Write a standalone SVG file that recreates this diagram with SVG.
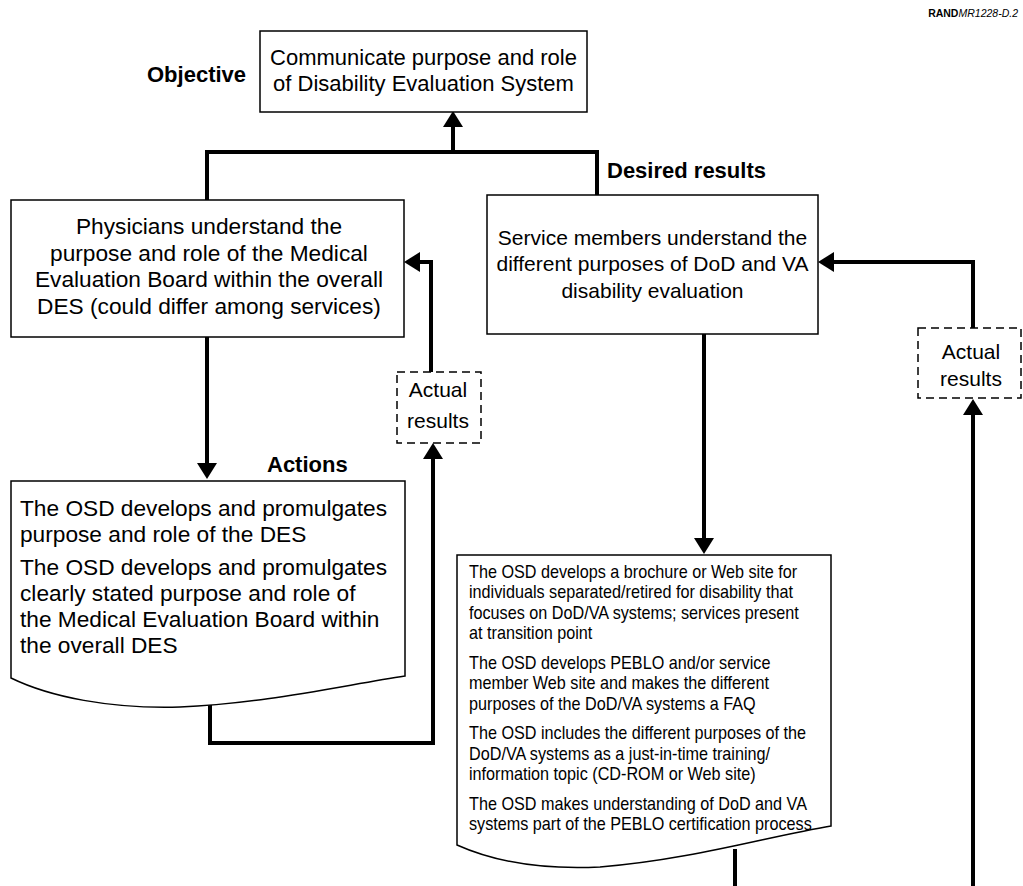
<svg xmlns="http://www.w3.org/2000/svg" width="1023" height="886" viewBox="0 0 1023 886">
  <defs>
    <marker id="ah" markerUnits="userSpaceOnUse" markerWidth="16" markerHeight="20" refX="0" refY="10" orient="auto" viewBox="0 0 16 20">
      <path d="M0,0 L16,10 L0,20 Z" fill="#000"/>
    </marker>
  </defs>
  <style>
    .box { fill: #fff; stroke: #000; stroke-width: 1.5; }
    .dash { fill: #fff; stroke: #000; stroke-width: 1.5; stroke-dasharray: 8 5; }
    .conn { fill: none; stroke: #000; stroke-width: 4; stroke-linejoin: miter; }
    .arr { marker-end: url(#ah); }
    text { font-family: "Liberation Sans", Arial, Helvetica, sans-serif; fill: #000; }
    .t { font-size: 22px; }
    .l { font-size: 22.7px; }
    .m { font-size: 21px; }
    .s { font-size: 18px; }
    .c { text-anchor: middle; }
    .h { font-size: 22px; font-weight: bold; }
  </style>
  <rect width="1023" height="886" fill="#fff"/>

  <!-- figure tag -->
  <text x="1018" y="17" font-size="10.5" text-anchor="end"><tspan font-weight="bold">RAND</tspan><tspan font-style="italic">MR1228-D.2</tspan></text>

  <!-- section labels -->
  <text class="h" x="147" y="82">Objective</text>
  <text class="h" x="607" y="178" font-size="22.5">Desired results</text>
  <text class="h" x="267" y="472">Actions</text>

  <!-- connectors -->
  <g id="connectors">
    <path class="conn" d="M207,200 V152 H597 V195"/>
    <path class="conn arr" d="M453,152 V127"/>
    <path class="conn arr" d="M207,337 V463"/>
    <path class="conn arr" d="M704,334 V538"/>
    <path class="conn arr" d="M210,705 V743 H433 V459"/>
    <path class="conn arr" d="M431,372 V262 H420"/>
    <path class="conn arr" d="M973,886 V415"/>
    <path class="conn arr" d="M973,328 V262 H834"/>
    <path class="conn" d="M735,849 V886"/>
  </g>

  <!-- objective -->
  <g id="objective">
    <rect class="box" x="260" y="31" width="327" height="81"/>
    <text class="t c" x="423.5" y="65">Communicate purpose and role</text>
    <text class="t c" x="423.5" y="91">of Disability Evaluation System</text>
  </g>

  <!-- desired results -->
  <g id="physicians">
    <rect class="box" x="11" y="200" width="393" height="137"/>
    <text class="l c" x="209" y="234">Physicians understand the</text>
    <text class="l c" x="209" y="260.5">purpose and role of the Medical</text>
    <text class="l c" x="209" y="287">Evaluation Board within the overall</text>
    <text class="l c" x="209" y="313.5">DES (could differ among services)</text>
  </g>

  <g id="service-members">
    <rect class="box" x="487" y="195" width="331" height="139"/>
    <text class="m c" x="652.5" y="244.5">Service members understand the</text>
    <text class="m c" x="652.5" y="271">different purposes of DoD and VA</text>
    <text class="m c" x="652.5" y="297.5">disability evaluation</text>
  </g>

  <!-- actual results -->
  <g id="actual-left">
    <rect class="dash" x="397" y="372" width="84" height="71"/>
    <text class="m c" x="438" y="397">Actual</text>
    <text class="m c" x="438" y="428">results</text>
  </g>

  <g id="actual-right">
    <rect class="dash" x="918" y="328" width="103" height="70"/>
    <text class="m c" x="971" y="359">Actual</text>
    <text class="m c" x="971" y="386">results</text>
  </g>

  <!-- actions -->
  <g id="actions-left">
    <path class="box" d="M11,678 V481 H405 V676 C340,686 260,704 180,707 C110,709 50,697 11,678 Z"/>
    <text class="l" x="20" y="516">The OSD develops and promulgates</text>
    <text class="l" x="20" y="542">purpose and role of the DES</text>
    <text class="l" x="20" y="575">The OSD develops and promulgates</text>
    <text class="l" x="20" y="601">clearly stated purpose and role of</text>
    <text class="l" x="20" y="627">the Medical Evaluation Board within</text>
    <text class="l" x="20" y="653">the overall DES</text>
  </g>

  <g id="actions-right">
    <path class="box" d="M457,845 V555 H831 V826 C770,836 690,860 600,867 C540,870 495,862 457,845 Z"/>
    <!-- condensed body text -->
    <g transform="translate(469,0) scale(0.9,1)">
      <text class="s" x="0" y="578">The OSD develops a brochure or Web site for</text>
      <text class="s" x="0" y="598.5">individuals separated/retired for disability that</text>
      <text class="s" x="0" y="619">focuses on DoD/VA systems; services present</text>
      <text class="s" x="0" y="639.5">at transition point</text>
      <text class="s" x="0" y="669">The OSD develops PEBLO and/or service</text>
      <text class="s" x="0" y="689.5">member Web site and makes the different</text>
      <text class="s" x="0" y="710">purposes of the DoD/VA systems a FAQ</text>
      <text class="s" x="0" y="739.5">The OSD includes the different purposes of the</text>
      <text class="s" x="0" y="760">DoD/VA systems as a just-in-time training/</text>
      <text class="s" x="0" y="780.5">information topic (CD-ROM or Web site)</text>
      <text class="s" x="0" y="810">The OSD makes understanding of DoD and VA</text>
      <text class="s" x="0" y="830.5">systems part of the PEBLO certification process</text>
    </g>
  </g>
</svg>
